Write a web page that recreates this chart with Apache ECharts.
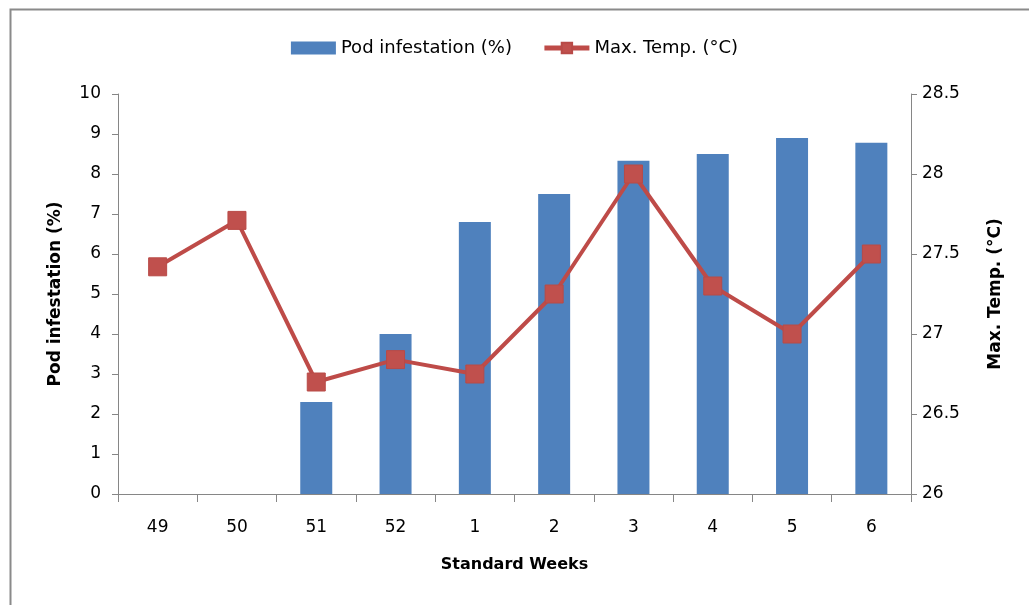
<!DOCTYPE html>
<html>
<head>
<meta charset="utf-8">
<script src="https://cdn.jsdelivr.net/npm/echarts@6/dist/echarts.min.js"></script>
<style>
html,body{margin:0;padding:0;background:#fff;}
#c{width:1029px;height:605px;}
</style>
</head>
<body>
<div id="c"></div>
<script>
const weeks = ['49','50','51','52','1','2','3','4','5','6'];
const podInfestation = [null, null, 2.3, 4.0, 6.8, 7.5, 8.33, 8.5, 8.9, 8.78];
const maxTemp = [27.42, 27.71, 26.70, 26.84, 26.75, 27.25, 28.0, 27.30, 27.0, 27.5];
const leftTicks = {min: 0, max: 10, interval: 1};
const rightTicks = {min: 26, max: 28.5, interval: 0.5};

const FONT = 'DejaVu Sans';
const axisGray = '#868686';
const chart = echarts.init(document.getElementById('c'), null, {renderer: 'canvas'});
chart.setOption({
  animation: false,
  backgroundColor: '#fff',
  textStyle: {fontFamily: FONT},
  graphic: [{
    type: 'rect', left: 8, top: 7, silent: true,
    shape: {width: 1060, height: 640},
    style: {fill: 'none', stroke: '#8a8a8a', lineWidth: 2}
  }],
  legend: {
    top: 34, left: 'center',
    itemWidth: 45, itemHeight: 13, itemGap: 30,
    textStyle: {fontFamily: FONT, fontSize: 18, color: '#000'},
    data: [
      {name: 'Pod infestation (%)', icon: 'rect'},
      {name: 'Max. Temp. (°C)', lineStyle: {width: 5, color: '#BE4B48'}}
    ]
  },
  grid: {left: 118, right: 118, top: 94, bottom: 111, containLabel: false},
  xAxis: {
    type: 'category', data: weeks, boundaryGap: true,
    name: 'Standard Weeks', nameLocation: 'middle', nameGap: 63,
    nameTextStyle: {fontFamily: FONT, fontSize: 16, fontWeight: 'bold', color: '#000'},
    axisLine: {lineStyle: {color: axisGray, width: 1}},
    axisTick: {show: true, length: 8, alignWithLabel: false, lineStyle: {color: axisGray}},
    axisLabel: {fontFamily: FONT, fontSize: 17, color: '#000', margin: 25}
  },
  yAxis: [{
    type: 'value', min: leftTicks.min, max: leftTicks.max, interval: leftTicks.interval,
    position: 'left',
    name: 'Pod infestation (%)', nameLocation: 'middle', nameGap: 54, nameRotate: 90,
    nameTextStyle: {fontFamily: FONT, fontSize: 17, fontWeight: 'bold', color: '#000'},
    axisLine: {show: true, lineStyle: {color: axisGray}},
    axisTick: {show: true, length: 6, lineStyle: {color: axisGray}},
    splitLine: {show: false},
    axisLabel: {fontFamily: FONT, fontSize: 17, color: '#000', margin: 17}
  }, {
    type: 'value', min: rightTicks.min, max: rightTicks.max, interval: rightTicks.interval,
    position: 'right',
    name: 'Max. Temp. (°C)', nameLocation: 'middle', nameGap: 76, nameRotate: 90,
    nameTextStyle: {fontFamily: FONT, fontSize: 17, fontWeight: 'bold', color: '#000'},
    axisLine: {show: true, lineStyle: {color: axisGray}},
    axisTick: {show: true, length: 6, lineStyle: {color: axisGray}},
    splitLine: {show: false},
    axisLabel: {fontFamily: FONT, fontSize: 17, color: '#000', margin: 11}
  }],
  series: [{
    name: 'Pod infestation (%)', type: 'bar', yAxisIndex: 0,
    data: podInfestation, barWidth: 32,
    itemStyle: {color: '#4F81BD'}
  }, {
    name: 'Max. Temp. (°C)', type: 'line', yAxisIndex: 1,
    data: maxTemp, symbol: 'rect', symbolSize: 18,
    lineStyle: {color: '#BE4B48', width: 4},
    itemStyle: {color: '#C0504D', borderColor: '#B84A47', borderWidth: 1}
  }]
});
</script>
</body>
</html>
